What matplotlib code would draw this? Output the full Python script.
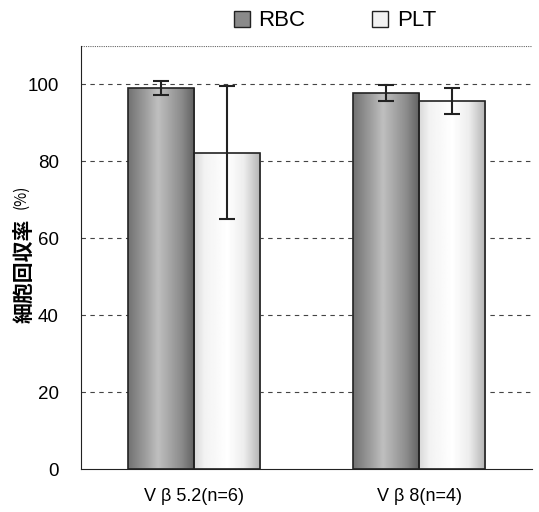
import numpy as np
import matplotlib
matplotlib.use("Agg")
import matplotlib.pyplot as plt
from matplotlib.patches import Rectangle

plt.rcParams['font.family'] = ['Liberation Sans', 'Noto Sans CJK JP', 'DejaVu Sans']

categories = ["V \u03b2 5.2(n=6)", "V \u03b2 8(n=4)"]
series_names = ["RBC", "PLT"]
rbc_mean = [99.0, 97.8]
rbc_err = [1.8, 2.0]
plt_mean = [82.3, 95.8]
plt_err = [17.3, 3.4]
yticks = [0, 20, 40, 60, 80, 100]

fig = plt.figure(figsize=(5.39, 5.12), dpi=100)
ax = fig.add_axes([81/539, 1-469/512, (532-81)/539, (469-46)/512])

x = np.arange(len(categories))
w = 0.293

rbc_grad = np.interp(np.linspace(0, 1, 60), [0, 0.2, 0.45, 0.8, 1.0], [0.45, 0.58, 0.75, 0.55, 0.38])
plt_grad = np.interp(np.linspace(0, 1, 60), [0, 0.15, 0.5, 0.75, 1.0], [0.85, 0.95, 1.0, 0.93, 0.70])

for means, errs, offset, g in [(rbc_mean, rbc_err, -w/2, rbc_grad), (plt_mean, plt_err, w/2, plt_grad)]:
    bars = ax.bar(x + offset, means, width=w, facecolor='none', edgecolor='#222222', linewidth=1.2, zorder=3)
    for b in bars:
        x0, y0 = b.get_x(), b.get_y()
        im = ax.imshow(g[None, :], cmap='gray', vmin=0, vmax=1, aspect='auto',
                       extent=[x0, x0 + b.get_width(), y0, y0 + b.get_height()], zorder=2,
                       interpolation='bilinear')
        im.set_clip_path(b)
    ax.errorbar(x + offset, means, yerr=errs, fmt='none', ecolor='#222222',
                elinewidth=1.5, capsize=6, capthick=1.5, zorder=4)

ax.set_xlim(-0.5, 1.5)
ax.set_ylim(0, 110)
ax.set_yticks(yticks)
ax.set_yticklabels([str(t) for t in yticks], fontsize=13.5)
ax.set_xticks(x)
ax.set_xticklabels(categories, fontsize=13)
ax.tick_params(axis='y', length=0, pad=16)
ax.tick_params(axis='x', length=0, pad=14)
for t in yticks[1:]:
    ax.axhline(t, color='#444444', linestyle=(0, (4, 4)), linewidth=0.8, zorder=1)
ax.axhline(110, color='#666666', linestyle=(0, (1, 1)), linewidth=0.8, zorder=1)
ax.spines['top'].set_visible(False)
ax.spines['right'].set_visible(False)
ax.spines['left'].set_color('#222222')
ax.spines['bottom'].set_color('#222222')

# y label: kanji part and smaller (%)
fig.text(24/539, 1-271/512, "細胞回収率", rotation=90, ha='center', va='center',
         fontsize=15, fontweight='bold', family=['Noto Sans CJK JP'])
fig.text(21/539, 1-197/512, "(%)", rotation=90, ha='center', va='center',
         fontsize=11, family=['Noto Sans CJK JP'])

# legend
handles = [Rectangle((0, 0), 1, 1, facecolor='#8a8a8a', edgecolor='#222222'),
           Rectangle((0, 0), 1, 1, facecolor='#f2f2f2', edgecolor='#222222')]
fig.legend(handles, series_names, loc='center', bbox_to_anchor=(335/539, 1-21/512), ncol=2,
           frameon=False, fontsize=16, handlelength=0.7, handleheight=0.7,
           handletextpad=0.4, columnspacing=3.0)

fig.savefig("out.png", dpi=100)
